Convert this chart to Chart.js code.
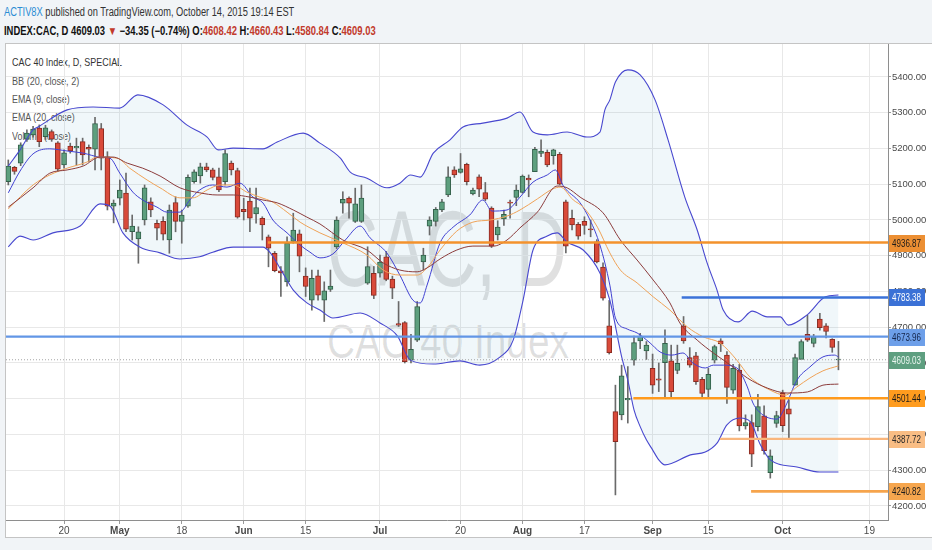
<!DOCTYPE html>
<html>
<head>
<meta charset="utf-8">
<script src="https://cdn.jsdelivr.net/npm/chart.js@4.4.1/dist/chart.umd.min.js"></script>
<style>
  html, body { margin: 0; padding: 0; }
  body { width: 932px; height: 550px; background: #f1f4f7; position: relative; overflow: hidden;
         font-family: 'Liberation Sans', Arial, sans-serif; }
  .fit { position: absolute; white-space: nowrap; transform-origin: 0 0; display: inline-block; }
  .hdr { left: 4px; font-size: 12px; line-height: 12px; }
  #hdr1 { top: 6px; color: #333; }
  #hdr2 { top: 25px; color: #111; font-weight: bold; }
  .user { color: #2b8dd4; }
  .red { color: #c23a2c; }
  #panel { position: absolute; left: 5px; top: 43px; width: 927px; height: 495px; background: #fff;
           border: 1px solid #c4c4c4; border-right: none; box-sizing: border-box; }
  .wm { color: rgba(0, 0, 0, 0.12); line-height: 1; font-family: 'Liberation Sans Narrow', 'Liberation Sans', Arial, sans-serif; }
  #wm1 { left: 327px; top: 196px; font-size: 107px; }
  #wm2 { left: 327px; top: 317px; font-size: 49px; }
  .lg { left: 12px; font-size: 11px; line-height: 11px; color: #555; }
  #c { position: absolute; left: 0; top: 0; }
</style>
</head>
<body>
<div id="hdr1" class="fit hdr" data-w="290"><span class="user">ACTIV8X</span> published on TradingView.com, October 14, 2015 19:14 EST</div>
<div id="hdr2" class="fit hdr" data-w="372">INDEX:CAC, D 4609.03 <span class="red">▼</span> −34.35 (−0.74%) O:<span class="red">4608.42</span> H:<span class="red">4660.43</span> L:<span class="red">4580.84</span> C:<span class="red">4609.03</span></div>
<div id="panel"></div>
<div id="wm1" class="fit wm" data-w="240">CAC, D</div>
<div id="wm2" class="fit wm" data-w="242">CAC 40 Index</div>
<div class="fit lg" data-w="110" style="top:57px;color:#333">CAC 40 Index, D, SPECIAL</div>
<div class="fit lg" data-w="67" style="top:76px">BB (20, close, 2)</div>
<div class="fit lg" data-w="58" style="top:94px">EMA (9, close)</div>
<div class="fit lg" data-w="63" style="top:112px">EMA (20, close)</div>
<div class="fit lg" data-w="59" style="top:131px">Volume (close)</div>
<canvas id="c" width="932" height="550"></canvas>
<script>
// --- DATA (daily candles, index 0 = first visible session) ---
const candleOpen = [
  5107,5147,5159,5226,5238,5257,5233,5247,5216,5154, 5207,5202,5219,5203,5198,5256,5177,5039,5061,5075,
  4967,4947,5000,5051,4991,4996,4944,5049,4996,5039, 5107,5123,5149,5140,5121,5107,5159,5138,5030,5053,
  5017,5005,4953,4907,4858,4827,4940,4961,4843,4776, 4844,4776,4806,4925,5047,5061,4996,4996,4823,4851,
  4851,4897,4835,4710,4713,4608,4664,4883,4983,4996, 5028,5070,5140,5133,5156,5073,5121,5077,5033,4958,
  5003,5050,5063,5077,5117,5135,5186,5189,5180,5184, 5051,5005,4988,4996,4975,4939,4868,4704,4464,4455,
  4497,4608,4662,4634,4585,4556,4601,4606,4579,4704, 4615,4620,4554,4526,4608,4662,4622,4524,4580,4424,
  4433,4422,4452,4293,4431,4515,4472,4538,4610,4680, 4655,4723,4704,4666,4608.42
];
const candleHigh = [
  5168,5150,5216,5252,5262,5266,5265,5252,5219,5196, 5215,5229,5229,5210,5287,5270,5191,5056,5112,5131,
  5014,4981,5098,5062,5000,5009,5042,5065,5028,5126, 5140,5159,5159,5145,5145,5196,5165,5145,5061,5089,
  5089,5009,4958,4912,4870,4953,5019,4972,4866,4860, 4860,4827,4860,5009,5079,5065,5089,5098,4925,4870,
  4902,4912,4843,4772,4716,4680,4772,4921,5009,5035, 5058,5149,5149,5186,5159,5089,5126,5105,5037,4998,
  5028,5056,5098,5126,5126,5203,5224,5196,5198,5189, 5056,5028,4993,5009,5000,4945,4880,4775,4538,4594,
  4590,4675,4683,4660,4625,4600,4693,4650,4650,4730, 4643,4630,4560,4585,4650,4668,4632,4596,4596,4455,
  4455,4512,4480,4357,4465,4524,4497,4625,4665,4734, 4680,4739,4710,4668,4660.43
];
const candleLow = [
  5098,5128,5152,5220,5232,5205,5225,5220,5135,5145, 5187,5154,5154,5163,5140,5140,5028,4992,5042,4967,
  4944,4879,4986,5009,4944,4944,4907,4967,4935,5035, 5103,5103,5135,5112,5079,5098,5126,5005,5000,4967,
  4991,4944,4869,4855,4786,4815,4935,4855,4786,4748, 4776,4716,4800,4920,5019,5005,4993,4993,4820,4780,
  4840,4830,4780,4702,4600,4600,4660,4860,4958,4983, 5023,5065,5119,5131,5098,5070,5065,5054,4923,4944,
  4985,5005,5040,5075,5065,5135,5177,5149,5156,5098, 4908,4972,4946,4960,4953,4880,4776,4625,4231,4441,
  4432,4594,4640,4610,4515,4520,4502,4505,4570,4655, 4588,4540,4505,4505,4600,4632,4487,4515,4410,4415,
  4310,4410,4345,4278,4420,4408,4390,4538,4610,4660, 4645,4692,4670,4630,4580.84
];
const candleClose = [
  5151,5136,5210,5243,5254,5219,5258,5226,5142,5188, 5193,5206,5182,5198,5270,5173,5039,5047,5084,4974,
  4983,4967,5090,5028,4977,4960,5028,4996,5014,5119, 5135,5149,5140,5119,5084,5186,5140,5008,5023,5005,
  5035,4986,4921,4858,4852,4935,4972,4899,4814,4837, 4790,4802,4815,5000,5058,5047,5045,5061,4870,4789,
  4882,4834,4809,4706,4604,4638,4758,4902,5000,5030, 5051,5121,5126,5143,5107,5084,5086,5058,4927,4980,
  5016,5047,5084,5123,5112,5198,5193,5154,5196,5100, 4927,4986,4955,4985,4972,4883,4781,4629,4380,4564,
  4501,4657,4675,4650,4538,4552,4655,4520,4599,4662, 4594,4548,4515,4568,4646,4653,4532,4585,4424,4433,
  4345,4478,4355,4340,4453,4425,4457,4615,4660,4664, 4674,4699,4688,4643.38,4609.03
];

// indicator lines: [session index, value]
const bbUpper = [[0,5151],[1.9,5196],[4,5252],[4.8,5260],[9.5,5308],[13.7,5316],[18,5313],[20.9,5350],[25,5322],
  [28.8,5266],[32.1,5232],[33.9,5196],[36.3,5201],[41.1,5199],[43.4,5218],[47.6,5243],[50.3,5215],[53.6,5173],
  [55.2,5134],[57.9,5117],[61.1,5090],[63.2,5103],[64.9,5126],[66.5,5120],[68.6,5187],[71.3,5224],[73.4,5260],
  [76.6,5271],[80.5,5285],[82.6,5302],[84.7,5246],[87,5238],[90.2,5246],[93.4,5232],[95.5,5246],[96.3,5308],
  [97.1,5336],[98,5386],[100,5420],[102,5406],[104.4,5336],[106.5,5224],[109.2,5064],[111.2,4972],[112.8,4880],
  [114.4,4804],[115.4,4748],[117.8,4715],[120.1,4745],[122.5,4729],[124.6,4729],[125.9,4706],[128.9,4734],
  [131.9,4785],[134,4790]];
const bbLower = [[0,4925],[1.9,4955],[4,4944],[7.2,4964],[11.6,4983],[14.8,5045],[16.4,5039],[18.5,4964],
  [21.3,4924],[24.5,4908],[27.7,4891],[30.9,4897],[33,4910],[36.3,4924],[41.1,4924],[42.3,4908],[44.3,4852],
  [46,4804],[48.2,4768],[50.3,4748],[52.4,4726],[56.8,4740],[60,4712],[62.8,4676],[64.9,4608],[68.6,4597],
  [72.9,4606],[76.1,4594],[79.4,4617],[81.5,4664],[83.1,4776],[84.7,4916],[87,4955],[88.6,4964],[90.2,4938],
  [92.8,4916],[95.5,4852],[97.1,4776],[99,4618],[100,4552],[101,4469],[102,4422],[103,4385],[104,4357],
  [105,4329],[106,4315],[110.1,4343],[112.5,4351],[114.4,4376],[116,4427],[118.1,4446],[119.8,4435],
  [121.4,4371],[123,4329],[127.3,4309],[131,4295],[134,4295]];
const bbBasis = [[0,5036],[4,5090],[6.7,5131],[9.5,5140],[12.1,5151],[14.8,5176],[16.9,5176],[19.2,5159],
  [21.7,5145],[24.5,5123],[27.7,5090],[30.9,5076],[33.7,5070],[36.3,5070],[39,5064],[41.1,5056],[43.4,5048],
  [46,5028],[48.2,5008],[50.3,4989],[54,4944],[57.9,4916],[60.5,4880],[63.2,4860],[66,4855],[67.6,4866],
  [69.7,4891],[72.4,4916],[75,4927],[78.3,4927],[80.5,4944],[82.6,4978],[85.4,5022],[88.6,5095],[90.2,5090],
  [92.3,5064],[96,5020],[98.8,4944],[101.5,4888],[104.1,4832],[106.8,4768],[108.4,4712],[111.2,4664],
  [113.8,4628],[117,4589],[119.3,4558],[122.5,4530],[125.7,4516],[129,4519],[131.5,4538],[134,4541]];
const ema9 = [[0,5076],[1.9,5137],[4,5185],[6.7,5199],[9.5,5193],[12.1,5187],[14.8,5176],[16.4,5173],[18,5131],
  [20.1,5078],[21.7,5056],[24,5036],[25.6,5022],[27.7,5022],[29.3,5056],[30.9,5084],[33,5098],[35.3,5092],
  [37.4,5103],[39.5,5064],[41.1,5048],[42.7,5000],[45,4964],[47.1,4930],[48.7,4910],[50.3,4894],[52.4,4905],
  [54.4,4944],[56.8,4983],[58.4,4950],[61.1,4908],[63.2,4846],[65.3,4776],[66.5,4768],[67.6,4818],[69.7,4936],
  [71.8,4980],[74.5,5014],[76.6,5056],[78.1,5025],[80.5,5028],[82.6,5064],[84.7,5106],[87,5126],[88.3,5140],
  [89.6,5095],[92.3,5048],[93.9,5000],[95.5,4930],[97.1,4818],[98,4726],[99.9,4695],[101.5,4684],[103.6,4656],
  [105.2,4631],[107.1,4622],[108.9,4628],[110.5,4600],[112.5,4586],[113.8,4594],[115.4,4594],[117.6,4586],
  [119.3,4533],[120.2,4488],[121.8,4455],[124.1,4443],[125.4,4477],[127.3,4552],[129.4,4589],[131.5,4617],
  [133.4,4622],[134,4617]];
const ema20 = [[0,5031],[4,5098],[6.7,5126],[9.5,5145],[12.7,5162],[14.3,5176],[17.6,5173],[19.6,5145],
  [22.4,5112],[24.5,5090],[27.7,5062],[29.8,5062],[32.1,5084],[34.2,5098],[36.3,5098],[38.5,5078],[40.6,5064],
  [42.7,5050],[45,5022],[47.1,4994],[48.7,4978],[50.3,4964],[54,4936],[57.9,4902],[60.5,4860],[63.2,4846],
  [66,4846],[67.6,4866],[69.7,4916],[72.4,4969],[75,4994],[77.8,5000],[80.5,5011],[82.6,5028],[85.4,5059],
  [87.9,5087],[89.1,5092],[91.2,5056],[92.8,5036],[95.1,4980],[97.1,4908],[98.8,4860],[101.5,4824],
  [104.1,4785],[106.8,4748],[109.6,4701],[112.2,4673],[114.9,4656],[117.6,4608],[119.7,4561],[123,4524],
  [125.4,4510],[127.3,4533],[129.4,4558],[131.5,4578],[134,4592]];

// horizontal price levels and where each ray starts (session index, null = left edge)
const levelValues = [4936.87, 4783.38, 4673.96, 4501.44, 4387.72, 4240.82];
const levelStart  = [41.9, 108.7, null, 100.9, 114.9, 119.9];

// x-axis ticks
const tickIdx    = [9, 18, 28, 38, 48, 60, 73, 83, 93, 104, 113, 125, 139];
const tickLabels = ['20', 'May', '18', 'Jun', '15', 'Jul', '20', 'Aug', '17', 'Sep', '15', 'Oct', '19'];

// --- STYLE ---
const FONT = "'Liberation Sans', Arial, sans-serif";
const X_MIN = -0.37, X_MAX = 142.0, Y_MIN = 4160.8, Y_MAX = 5492.3;
const UP = '#5d9f7e', UP_EDGE = '#33604a', DN = '#d94a3a', DN_EDGE = '#8a2c22', WICK = '#6a6a6a';
const levelColors = ['#f3922c', '#3a72d8', '#6296e6', '#ff9a1c', '#f9b67c', '#f6a44c'];
const levelWidths = [2.6, 2.6, 2.2, 2.6, 2.2, 2.6];
const tagStyles = [
  { bg: '#ec8f33', fg: '#1b1b1b' }, { bg: '#3b71d6', fg: '#ffffff' }, { bg: '#6d9fe9', fg: '#14254a' },
  { bg: '#ff9c1e', fg: '#1b1b1b' }, { bg: '#f9bd84', fg: '#2a2a2a' }, { bg: '#f6a64e', fg: '#1b1b1b' }
];
const lastClose = candleClose[candleClose.length - 1];

Chart.defaults.font.family = FONT;

const isUp = i => candleClose[i] >= candleOpen[i];
const pts = a => a.map(([x, y]) => ({ x, y }));
const wicks = candleOpen.map((_, i) => ({ x: i, y: [candleLow[i], candleHigh[i]] }));
const bodies = candleOpen.map((_, i) => ({ x: i, y: [candleOpen[i], candleClose[i]] }));

function lineSet(data, color, width, extra) {
  return Object.assign({ type: 'line', data, borderColor: color, borderWidth: width, pointRadius: 0,
    cubicInterpolationMode: 'monotone', fill: false, order: 1 }, extra || {});
}

const datasets = [
  lineSet(pts(bbUpper), '#4848cf', 1.1, { fill: '+1', backgroundColor: 'rgba(60,150,185,0.075)' }),
  lineSet(pts(bbLower), '#4848cf', 1.1),
  lineSet(pts(bbBasis), '#8b3b3b', 1),
  lineSet(pts(ema20), '#efa257', 1),
  lineSet(pts(ema9), '#4141d2', 1),
  ...levelValues.map((v, k) => lineSet([{ x: levelStart[k] === null ? X_MIN : levelStart[k], y: v }, { x: X_MAX, y: v }],
    levelColors[k], levelWidths[k], { order: 0, cubicInterpolationMode: 'default' })),
  lineSet([{ x: X_MIN, y: lastClose }, { x: X_MAX, y: lastClose }], '#a4a4a4', 1, { borderDash: [1, 2], order: 0 }),
  { type: 'bar', data: bodies, order: 2, grouped: false, barThickness: 5, minBarLength: 1, borderWidth: 1, borderSkipped: false,
    backgroundColor: c => isUp(c.dataIndex) ? UP : DN, borderColor: c => isUp(c.dataIndex) ? UP_EDGE : DN_EDGE },
  { type: 'bar', data: wicks, order: 3, grouped: false, barThickness: 1, borderWidth: 0, backgroundColor: WICK }
];

// squeezed text: draws a string no wider than maxW
function narrowText(ctx, text, x, y, maxW) {
  const w = ctx.measureText(text).width;
  ctx.save();
  ctx.translate(x, y);
  ctx.scale(Math.min(1, maxW / w), 1);
  ctx.fillText(text, 0, 0);
  ctx.restore();
}

const tagPlugin = {
  id: 'priceTags',
  afterDraw(chart) {
    const ctx = chart.ctx, y = chart.scales.y, left = chart.chartArea.right + 1;
    const tags = levelValues.map((v, k) => ({ v, ...tagStyles[k] }));
    tags.splice(3, 0, { v: lastClose, bg: '#5e9f80', fg: '#eaf6ef' });
    ctx.save();
    ctx.font = '10px ' + FONT;
    ctx.textBaseline = 'middle';
    tags.forEach(t => {
      const py = Math.round(y.getPixelForValue(t.v));
      ctx.fillStyle = t.bg;
      ctx.fillRect(left, py - 8, 36, 17);
      ctx.fillStyle = t.fg;
      narrowText(ctx, t.v.toFixed(2), left + 3, py + 1, 29);
    });
    ctx.restore();
  }
};

new Chart(document.getElementById('c'), {
  type: 'bar',
  data: { datasets },
  options: {
    responsive: false, animation: false, events: [],
    layout: { padding: { left: 6, top: 44, right: 0, bottom: 12 } },
    plugins: { legend: { display: false }, tooltip: { enabled: false }, filler: { drawTime: 'beforeDatasetsDraw' } },
    scales: {
      x: {
        type: 'linear', min: X_MIN, max: X_MAX, offset: false,
        afterBuildTicks: s => { s.ticks = tickIdx.map(v => ({ value: v })); },
        afterFit: s => { s.height = 18; },
        ticks: {
          autoSkip: false, maxRotation: 0, padding: 1, color: '#4a4a4a',
          callback: v => tickLabels[tickIdx.indexOf(v)],
          font: c => ({ size: 10, weight: isNaN(Number(tickLabels[c.index])) ? 'bold' : 'normal' })
        },
        grid: { color: '#e8e8e8', tickLength: 4, tickColor: '#9a9a9a', offset: false },
        border: { color: '#8e8e8e' }
      },
      y: {
        position: 'right', min: Y_MIN, max: Y_MAX,
        afterBuildTicks: s => { s.ticks = s.ticks.filter(t => Math.abs(t.value / 100 - Math.round(t.value / 100)) < 1e-6); },
        afterFit: s => { s.width = 44; },
        ticks: { stepSize: 100, padding: 1, color: '#4a4a4a', font: { size: 9.5 }, callback: v => v.toFixed(2) },
        grid: { color: '#e8e8e8', tickLength: 3, tickColor: '#9a9a9a' },
        border: { color: '#8e8e8e' }
      }
    }
  },
  plugins: [tagPlugin]
});

// squeeze the html text runs to the widths they have in the picture
document.querySelectorAll('.fit').forEach(el => {
  el.style.transform = 'scaleX(' + (Number(el.dataset.w) / el.offsetWidth) + ')';
});
</script>
</body>
</html>
